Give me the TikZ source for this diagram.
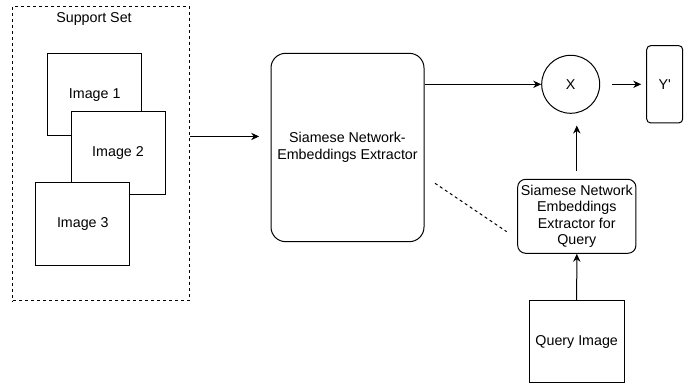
\documentclass[tikz,border=0pt]{standalone}
\usepackage{fontspec}
\setmainfont{Liberation Sans}
\usetikzlibrary{arrows.meta}

\begin{document}
\begin{tikzpicture}[x=0.75pt,y=0.75pt,>={Stealth[length=6pt,width=5.5pt]},line width=0.75pt,
  font=\fontsize{10.7}{12.4}\selectfont,
  imgbox/.style={draw,fill=white,minimum width=70.5pt,minimum height=61.9pt,inner sep=0pt},
  netbox/.style={draw,align=center,inner sep=0pt},
  dashline/.style={dash pattern=on 2.25pt off 2.25pt}]
\useasboundingbox (0,0) rectangle (697,385);
% support set
\node[draw,dashline,minimum width=132.2pt,minimum height=221.2pt] (support) at (100.9,231.5) {};
\node (supportlabel) at (94,366) {Support Set};
\node[imgbox] (image1) at (94.7,290.3) {Image 1};
\node[imgbox] (image2) at (118,232) {Image 2};
\node[imgbox] (image3) at (82.8,161) {Image 3};
% networks
\node[netbox,rounded corners=11pt,minimum width=114.75pt,minimum height=141.3pt] (siamese) at (347.5,237.5)
{Siamese Network-\\Embeddings Extractor};
\node[netbox,rounded corners=6pt,minimum width=88.7pt,minimum height=55.5pt] (qnet) at (576.8,168.7)
{Siamese Network\\Embeddings\\Extractor for\\Query};
\node[imgbox,minimum width=71pt,minimum height=61.5pt] (qimg) at (576.7,43.3) {Query Image};
\node[draw,circle,minimum size=43.5pt,inner sep=0pt] (xnode) at (570.7,300.7) {X};
\node[netbox,rounded corners=3pt,minimum width=27pt,minimum height=58pt] (yout) at (664.7,300.7) {Y\textquotesingle};
% connectors
\draw[->,shorten >=8.5pt] (support.east |- image1.south) -- (siamese.west |- image1.south);
\draw[->] (siamese.east |- xnode.west) -- (xnode.west);
\draw[->,shorten <=9pt,shorten >=3.75pt] (xnode.east) -- (yout.west);
\draw[->,shorten <=5.7pt,shorten >=8.8pt] (qnet.north) -- (qnet.north |- xnode.south);
\draw[->] (qimg.north) -- (qnet.south);
\coordinate (dashA) at (435,201.7);
\coordinate (dashB) at (506.7,153.3);
\draw[dashline] (dashA) -- (dashB);
\end{tikzpicture}
\end{document}
